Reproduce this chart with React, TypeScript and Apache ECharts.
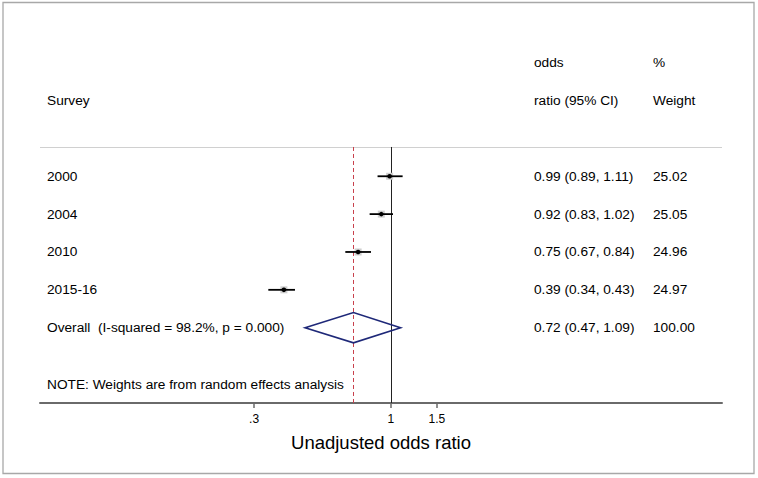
import React, { useEffect, useRef } from "react";
import * as echarts from "echarts";

// ---- data ----
const surveys = ["2000", "2004", "2010", "2015-16"];
const oddsRatios = [0.99, 0.92, 0.75, 0.39];
const ciLower = [0.89, 0.83, 0.67, 0.34];
const ciUpper = [1.11, 1.02, 0.84, 0.43];
const weights = [25.02, 25.05, 24.96, 24.97];

const overallOR = 0.72;
const overallLower = 0.47;
const overallUpper = 1.09;
const overallWeight = 100.0;
const overallLabel = "Overall  (I-squared = 98.2%, p = 0.000)";
const noteText = "NOTE: Weights are from random effects analysis";

const headerLeft = ["", "Survey"];
const headerOR = ["odds", "ratio (95% CI)"];
const headerWeight = ["%", "Weight"];

const tickValues = [0.3, 1, 1.5];
const tickLabels = [".3", "1", "1.5"];
const axisTitle = "Unadjusted odds ratio";

// ---- layout constants ----
const AXIS_MIN = 0.0455;
const AXIS_MAX = 18.5;
const ROW_TOP = -3.6;
const ROW_BOTTOM = 5.99;
const SEP_ROW = -0.774;
const NOTE_ROW = 5.51;
const COL_LEFT = 47;
const COL_OR = 534;
const COL_W = 653;
const FONT = '"Liberation Sans", Arial, sans-serif';
const TXT = 13.7;

const ln = Math.log;
const snap = (v: number) => Math.round(v) + 0.5;

export default function App() {
  const ref = useRef<HTMLDivElement>(null);

  useEffect(() => {
    if (!ref.current) return;
    const chart = echarts.init(ref.current, undefined, { renderer: "svg" });

    const studyData = surveys.map((_, i) => [ln(oddsRatios[i]), i, ln(ciLower[i]), ln(ciUpper[i])]);

    type TextItem = { text: string; col: number; row: number };
    const texts: TextItem[] = [];
    [-3, -2].forEach((r, k) => {
      if (headerLeft[k]) texts.push({ text: headerLeft[k], col: COL_LEFT, row: r });
      texts.push({ text: headerOR[k], col: COL_OR, row: r });
      texts.push({ text: headerWeight[k], col: COL_W, row: r });
    });
    surveys.forEach((s, i) => {
      texts.push({ text: s, col: COL_LEFT, row: i });
      texts.push({
        text: `${oddsRatios[i].toFixed(2)} (${ciLower[i].toFixed(2)}, ${ciUpper[i].toFixed(2)})`,
        col: COL_OR,
        row: i,
      });
      texts.push({ text: weights[i].toFixed(2), col: COL_W, row: i });
    });
    const ovRow = surveys.length;
    texts.push({ text: overallLabel, col: COL_LEFT, row: ovRow });
    texts.push({
      text: `${overallOR.toFixed(2)} (${overallLower.toFixed(2)}, ${overallUpper.toFixed(2)})`,
      col: COL_OR,
      row: ovRow,
    });
    texts.push({ text: overallWeight.toFixed(2), col: COL_W, row: ovRow });
    texts.push({ text: noteText, col: COL_LEFT, row: NOTE_ROW });

    const option: any = {
      animation: false,
      backgroundColor: "#ffffff",
      grid: { left: 40, right: 36, top: 40, bottom: 75, containLabel: false },
      xAxis: {
        type: "value",
        min: ln(AXIS_MIN),
        max: ln(AXIS_MAX),
        name: axisTitle,
        nameLocation: "middle",
        nameGap: 30,
        nameTextStyle: { fontFamily: FONT, fontSize: 18.5, color: "#000" },
        axisLine: { show: true, onZero: false, lineStyle: { color: "#6a6a6a", width: 2 } },
        axisTick: {
          show: true,
          length: 5,
          customValues: tickValues.map(ln),
          lineStyle: { color: "#6a6a6a", width: 1.5 },
        },
        axisLabel: {
          show: true,
          margin: 10,
          customValues: tickValues.map(ln),
          fontFamily: FONT,
          fontSize: 12,
          color: "#000",
          formatter: (v: number) => {
            const idx = tickValues.findIndex((t) => Math.abs(ln(t) - v) < 1e-6);
            return idx >= 0 ? tickLabels[idx] : "";
          },
        },
        splitLine: { show: false },
      },
      yAxis: {
        type: "value",
        inverse: true,
        min: ROW_TOP,
        max: ROW_BOTTOM,
        show: false,
        splitLine: { show: false },
      },
      graphic: [
        {
          type: "rect",
          shape: { x: 3, y: 2.5, width: 751, height: 471 },
          style: { fill: "none", stroke: "#a8a8a8", lineWidth: 1.3 },
          silent: true,
        },
      ],
      series: [
        {
          type: "custom",
          name: "reference lines",
          data: [[0]],
          clip: false,
          renderItem: (params: any, api: any) => {
            const sepL = api.coord([ln(AXIS_MIN), SEP_ROW]);
            const sepR = api.coord([ln(AXIS_MAX), SEP_ROW]);
            const nullTop = api.coord([0, SEP_ROW]);
            const nullBot = api.coord([0, ROW_BOTTOM]);
            const ovTop = api.coord([ln(overallOR), SEP_ROW]);
            const ovBot = api.coord([ln(overallOR), ROW_BOTTOM]);
            return {
              type: "group",
              children: [
                {
                  type: "line",
                  shape: { x1: sepL[0], y1: snap(sepL[1]), x2: sepR[0], y2: snap(sepR[1]) },
                  style: { stroke: "#d0d0d0", lineWidth: 1 },
                },
                {
                  type: "line",
                  shape: { x1: snap(nullTop[0]), y1: nullTop[1], x2: snap(nullBot[0]), y2: nullBot[1] },
                  style: { stroke: "#222", lineWidth: 1 },
                },
                {
                  type: "line",
                  shape: { x1: snap(ovTop[0]), y1: ovTop[1], x2: snap(ovBot[0]), y2: ovBot[1] },
                  style: { stroke: "#c8404c", lineWidth: 1, lineDash: [4, 3] },
                },
              ],
            };
          },
        },
        {
          type: "custom",
          name: "studies",
          data: studyData,
          clip: false,
          renderItem: (params: any, api: any) => {
            const p = api.coord([api.value(0), api.value(1)]);
            const l = api.coord([api.value(2), api.value(1)]);
            const h = api.coord([api.value(3), api.value(1)]);
            return {
              type: "group",
              children: [
                {
                  type: "rect",
                  shape: { x: p[0] - 3.5, y: p[1] - 3.5, width: 7, height: 7 },
                  style: { fill: "#cfcfcf" },
                },
                {
                  type: "line",
                  shape: { x1: l[0], y1: l[1], x2: h[0], y2: h[1] },
                  style: { stroke: "#000", lineWidth: 1.8 },
                },
                {
                  type: "circle",
                  shape: { cx: p[0], cy: p[1], r: 2.3 },
                  style: { fill: "#000" },
                },
              ],
            };
          },
        },
        {
          type: "custom",
          name: "overall",
          data: [[ln(overallOR), surveys.length, ln(overallLower), ln(overallUpper)]],
          clip: false,
          renderItem: (params: any, api: any) => {
            const c = api.coord([api.value(0), api.value(1) - 0.4]);
            const b = api.coord([api.value(0), api.value(1) + 0.4]);
            const l = api.coord([api.value(2), api.value(1)]);
            const h = api.coord([api.value(3), api.value(1)]);
            return {
              type: "polygon",
              shape: { points: [[l[0], l[1]], [c[0], c[1]], [h[0], h[1]], [b[0], b[1]]] },
              style: { fill: "none", stroke: "#1e2878", lineWidth: 1.6 },
            };
          },
        },
        {
          type: "custom",
          name: "table text",
          data: texts.map((t, i) => [0, t.row, i]),
          clip: false,
          renderItem: (params: any, api: any) => {
            const t = texts[api.value(2)];
            const p = api.coord([0, api.value(1)]);
            return {
              type: "text",
              x: t.col,
              y: p[1],
              style: {
                text: t.text,
                fill: "#000",
                fontFamily: FONT,
                fontSize: TXT,
                align: "left",
                verticalAlign: "middle",
              },
            };
          },
        },
      ],
    };

    chart.setOption(option);
    return () => chart.dispose();
  }, []);

  return (
    <div
      ref={ref}
      style={{ position: "fixed", left: 0, top: 0, width: 758, height: 478, background: "#fff" }}
    />
  );
}
